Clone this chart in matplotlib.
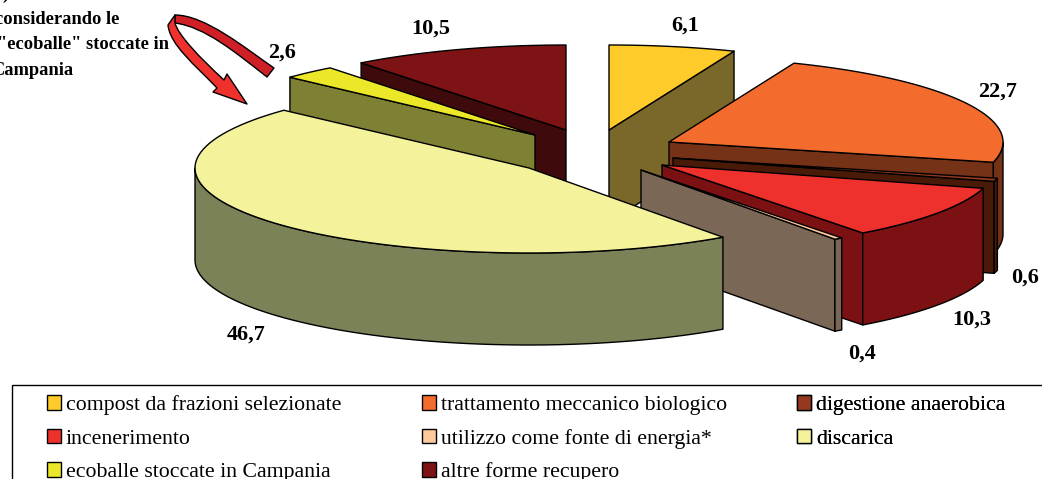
import numpy as np
import matplotlib
matplotlib.use("Agg")
import matplotlib.pyplot as plt
from matplotlib.patches import Polygon, PathPatch, Patch, Rectangle
from matplotlib.path import Path

plt.rcParams['font.family'] = ['Liberation Serif', 'DejaVu Serif']

# ---- data -------------------------------------------------------------
categories = ["compost da frazioni selezionate", "trattamento meccanico biologico",
              "digestione anaerobica", "incenerimento", "utilizzo come fonte di energia*",
              "discarica", "ecoballe stoccate in Campania", "altre forme recupero"]
values = [6.1, 22.7, 0.6, 10.3, 0.4, 46.7, 2.6, 10.5]

# ---- style ------------------------------------------------------------
top_colors = ["#FFCB2B", "#F46C2D", "#94391D", "#EE312C", "#FFC99C", "#F4F29B", "#ECE829", "#7E1315"]
wall_colors = ["#7A682B", "#763217", "#491A08", "#7B1113", "#7B6755", "#7B8257", "#7E8033", "#3F0A0B"]
radial_colors = ["#7A682B", "#763217", "#491A08", "#7B1113", "#7B6755", "#7B8257", "#7E8033", "#3F0A0B"]
apex_x = [609, 669, 673, 662, 641, 529, 535, 566]
apex_y = [130, 142, 158, 165, 170, 168, 135, 130]
label_x = [685, 998, 1025, 972, 862, 246, 282, 431]
label_y = [26, 92, 278, 320, 354, 335, 53, 29]
draw_order = [0, 7, 6, 1, 2, 3, 4, 5]
RX, RY, DEPTH = 334, 85, 92
EDGE = dict(edgecolor="black", linewidth=1.0, joinstyle="round")

fig = plt.figure(figsize=(10.42, 4.79), dpi=100)
ax = fig.add_axes([0, 0, 1, 1])
ax.set_xlim(0, 1042)
ax.set_ylim(479, 0)
ax.axis("off")

total = sum(values)
bounds = np.concatenate([[0], np.cumsum(values)]) / total * 2 * np.pi


def rim(cx, cy, a0, a1, dz=0, n=80):
    a = np.linspace(a0, a1, n)
    return np.column_stack([cx + RX * np.sin(a), cy - RY * np.cos(a) + dz])


for i in draw_order:
    a0, a1 = bounds[i], bounds[i + 1]
    cx, cy = apex_x[i], apex_y[i]
    z = 2 + draw_order.index(i)
    # radial wall facing the viewer
    if 0 < a1 < np.pi:
        edge = a1
    elif np.pi < a0 < 2 * np.pi:
        edge = a0
    else:
        edge = None
    if edge is not None:
        p = rim(cx, cy, edge, edge, n=1)[0]
        ax.add_patch(Polygon([(cx, cy), p, p + (0, DEPTH), (cx, cy + DEPTH)],
                             facecolor=radial_colors[i], zorder=z, **EDGE))
    # outer curved wall
    lo, hi = max(a0, np.pi / 2), min(a1, 3 * np.pi / 2)
    if lo < hi:
        up = rim(cx, cy, lo, hi)
        down = rim(cx, cy, hi, lo, DEPTH)
        ax.add_patch(Polygon(np.vstack([up, down]), facecolor=wall_colors[i], zorder=z, **EDGE))
    # top face
    ax.add_patch(Polygon(np.vstack([[(cx, cy)], rim(cx, cy, a0, a1)]),
                         facecolor=top_colors[i], zorder=z, **EDGE))

for v, x, y in zip(values, label_x, label_y):
    ax.text(x, y, f"{v:.1f}".replace(".", ","), ha="center", va="center",
            fontsize=16, fontweight="bold", color="black", zorder=30)

# ---- note and curved arrow ---------------------------------------------
for txt, x, y in [(")", 9, -6),
                  ("considerando le", 119, 19),
                  ('"ecoballe" stoccate in', 169, 44),
                  ("Campania", 73, 70)]:
    ax.text(x, y, txt, ha="right", va="center", fontsize=13.3, fontweight="bold", zorder=30)

band = Path([(175, 15), (205, 15), (245, 48), (274, 68),
             (267, 77), (235, 52), (205, 27), (175, 23), (175, 15)],
            [Path.MOVETO, Path.CURVE4, Path.CURVE4, Path.CURVE4,
             Path.LINETO, Path.CURVE4, Path.CURVE4, Path.CURVE4, Path.CLOSEPOLY])
ax.add_patch(PathPatch(band, facecolor="#CF2027", zorder=20, **EDGE))
arrow = Path([(175, 23), (178, 35), (200, 58), (224, 80),
              (227, 74), (247, 104), (213, 92), (217, 88),
              (195, 65), (170, 45), (168, 25), (175, 15), (175, 23)],
             [Path.MOVETO, Path.CURVE4, Path.CURVE4, Path.CURVE4,
              Path.LINETO, Path.LINETO, Path.LINETO, Path.LINETO,
              Path.CURVE4, Path.CURVE4, Path.CURVE4, Path.LINETO, Path.CLOSEPOLY])
ax.add_patch(PathPatch(arrow, facecolor="#EE312C", zorder=21, **EDGE))

# ---- legend -------------------------------------------------------------
ax.add_patch(Rectangle((12, 385), 1100, 200, facecolor="white", edgecolor="black",
                       linewidth=1.0, zorder=1))
columns = [([0, 3, 6], 47), ([1, 4, 7], 422), ([2, 5], 797)]
for idx, x in columns:
    handles = [Patch(facecolor=top_colors[i], edgecolor="black", linewidth=1.0,
                     label=categories[i]) for i in idx]
    leg = ax.legend(handles=handles, loc="upper left", bbox_to_anchor=(x, 395),
                    bbox_transform=ax.transData, frameon=False, fontsize=15.7, borderpad=0,
                    borderaxespad=0, labelspacing=0.62, handlelength=0.66, handleheight=0.66,
                    handletextpad=0.2, ncols=1)
    leg.set_zorder(25)
    ax.add_artist(leg)

fig.savefig("out.png", dpi=100)
